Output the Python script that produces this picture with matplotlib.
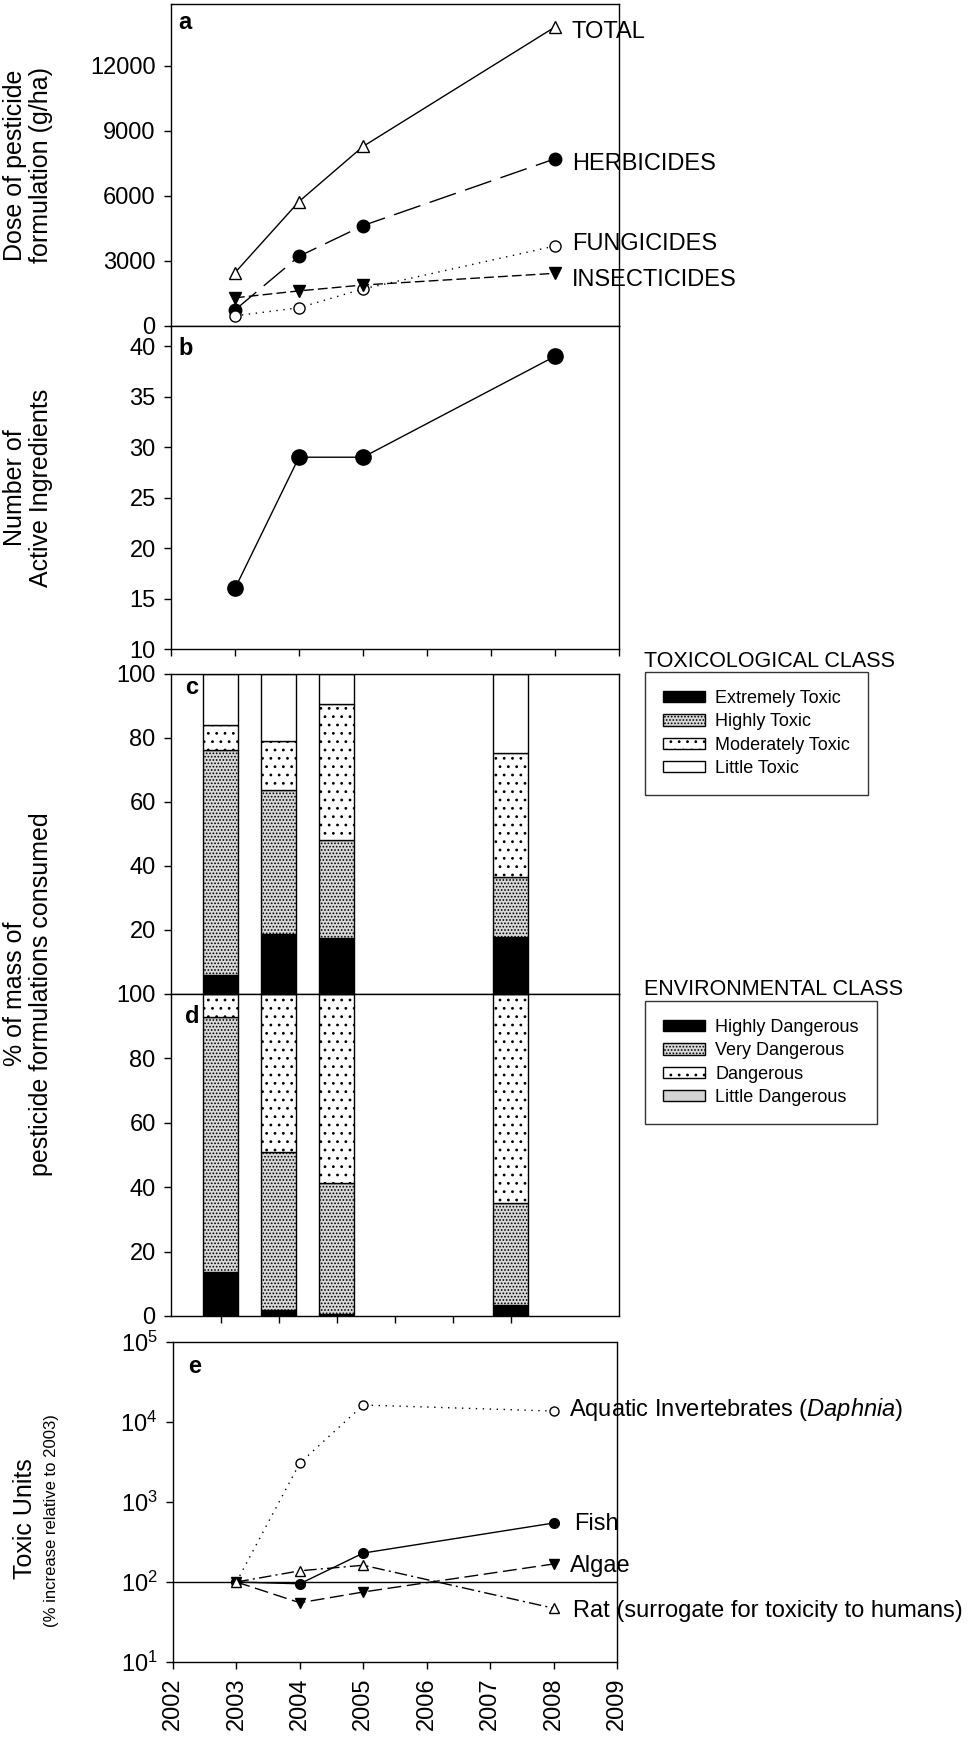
import numpy as np
import matplotlib
matplotlib.use('Agg')
import matplotlib.pyplot as plt
from matplotlib.patches import Patch
from matplotlib.ticker import NullLocator

plt.rcParams['font.family'] = ['Liberation Sans', 'DejaVu Sans']
plt.rcParams['mathtext.fontset'] = 'custom'
plt.rcParams['mathtext.rm'] = 'Liberation Sans'
plt.rcParams['mathtext.it'] = 'Liberation Sans:italic'
plt.rcParams['hatch.linewidth'] = 0.8
plt.rcParams['axes.linewidth'] = 1.0

years = [2003, 2004, 2005, 2008]

# a: dose of pesticide formulation (g/ha)
total = [2460, 5740, 8280, 13790]
herbicides = [740, 3215, 4630, 7710]
fungicides = [470, 840, 1710, 3690]
insecticides = [1300, 1620, 1890, 2430]

# b
active_ingredients = [16, 29, 29, 39]

# c: toxicological class (% of mass)
extremely_toxic = [6.0, 18.7, 17.4, 17.7]
highly_toxic = [70.1, 44.9, 30.8, 18.8]
moderately_toxic = [8.1, 15.6, 42.5, 38.9]
little_toxic = [15.8, 20.8, 9.3, 24.6]

# d: environmental class (% of mass)
highly_dangerous = [13.8, 1.8, 0.5, 3.5]
very_dangerous = [79.1, 49.2, 40.9, 31.6]
dangerous = [7.1, 49.0, 58.6, 64.9]
little_dangerous = [0.0, 0.0, 0.0, 0.0]

# e: toxic units (% relative to 2003)
daphnia = [100, 3070, 16300, 13700]
fish = [100, 95, 230, 546]
algae = [100, 55, 75, 168]
rat = [100, 138, 162, 47]

W, H = 979.0, 1741.0
fig = plt.figure(figsize=(W / 100, H / 100), dpi=100)


def add_panel(top, bottom, left=171, right=619):
    return fig.add_axes([left / W, 1 - bottom / H, (right - left) / W, (bottom - top) / H])


def style(ax):
    ax.tick_params(direction='out', length=5, width=1, labelsize=17, pad=6,
                   top=False, right=False)


def letter(ax, s, x, y):
    ax.text(x, y, s, transform=ax.transAxes, fontsize=17, fontweight='bold',
            ha='left', va='center')


# ---- a
ax_a = add_panel(4, 326)
style(ax_a)
ax_a.plot(years, total, color='k', lw=1, marker='^', mfc='white', mec='k', ms=8)
ax_a.plot(years, herbicides, color='k', lw=1, dashes=(20, 7), marker='o', ms=9)
ax_a.plot(years, fungicides, color='k', lw=1, dashes=(1, 4), marker='o', mfc='white', mec='k', ms=8)
ax_a.plot(years, insecticides, color='k', lw=1, dashes=(7, 3), marker='v', ms=8)
for vals, name, dy in [(total, 'TOTAL', -2), (herbicides, 'HERBICIDES', -2),
                       (fungicides, 'FUNGICIDES', 3), (insecticides, 'INSECTICIDES', -3)]:
    ax_a.annotate(name, (years[-1], vals[-1]), xytext=(12, dy), textcoords='offset points',
                  fontsize=17, va='center_baseline', ha='left', annotation_clip=False)
ax_a.set_xlim(2002, 2009)
ax_a.set_ylim(0, 14850)
ax_a.set_yticks(np.arange(0, 12001, 3000))
ax_a.tick_params(axis='x', bottom=False, labelbottom=False)
letter(ax_a, 'a', 0.016, 0.944)

# ---- b
ax_b = add_panel(326, 649)
style(ax_b)
ax_b.plot(years, active_ingredients, color='k', lw=1, marker='o', ms=11)
ax_b.set_xlim(2002, 2009)
ax_b.set_ylim(10, 42)
ax_b.set_yticks(np.arange(10, 41, 5))
ax_b.set_xticks(range(2002, 2010))
ax_b.tick_params(axis='x', labelbottom=False)
letter(ax_b, 'b', 0.016, 0.93)

# ---- c and d (stacked bars)
pos = np.array(years) - years[0]
bar_w = 0.6
dense = '.....'
sparse = '..'


def stack(ax, layers):
    bottom = np.zeros(len(pos))
    for vals, fc, hatch in layers:
        ax.bar(pos, vals, bar_w, bottom=bottom, color=fc, edgecolor='k', hatch=hatch, lw=1)
        bottom += np.array(vals)


tox_layers = [(extremely_toxic, 'k', None), (highly_toxic, '#d9d9d9', dense),
              (moderately_toxic, 'white', sparse), (little_toxic, 'white', None)]
env_layers = [(highly_dangerous, 'k', None), (very_dangerous, '#d9d9d9', dense),
              (dangerous, 'white', sparse), (little_dangerous, '#d3d3d3', None)]

ax_c = add_panel(674, 994)
style(ax_c)
stack(ax_c, tox_layers)
ax_c.set_xlim(-0.857, 6.867)
ax_c.set_ylim(0, 100)
ax_c.set_yticks(np.arange(20, 101, 20))
ax_c.set_xticks(range(6))
ax_c.tick_params(axis='x', labelbottom=False)
letter(ax_c, 'c', 0.031, 0.959)

ax_d = add_panel(994, 1316)
style(ax_d)
stack(ax_d, env_layers)
ax_d.set_xlim(-0.857, 6.867)
ax_d.set_ylim(0, 100)
ax_d.set_yticks(np.arange(0, 101, 20))
ax_d.set_xticks(range(6))
ax_d.tick_params(axis='x', labelbottom=False)
letter(ax_d, 'd', 0.031, 0.929)

tox_names = ['Extremely Toxic', 'Highly Toxic', 'Moderately Toxic', 'Little Toxic']
env_names = ['Highly Dangerous', 'Very Dangerous', 'Dangerous', 'Little Dangerous']

for layers, names, title, title_y, box_top in [
        (tox_layers, tox_names, 'TOXICOLOGICAL CLASS', 667, 672),
        (env_layers, env_names, 'ENVIRONMENTAL CLASS', 995, 1001)]:
    handles = [Patch(facecolor=fc, edgecolor='k', hatch=h, lw=1) for _, fc, h in layers]
    fig.text(644 / W, 1 - title_y / H, title, fontsize=15.5, ha='left', va='baseline')
    leg = fig.legend(handles, names, loc='upper left', bbox_to_anchor=(645 / W, 1 - box_top / H),
                     borderaxespad=0, fontsize=13, frameon=True, fancybox=False,
                     edgecolor='k', handlelength=2.3, handleheight=0.6, labelspacing=0.35,
                     borderpad=1.0, handletextpad=0.6)
    leg.get_frame().set_linewidth(1)

# ---- e
ax_e = add_panel(1342, 1662, left=173, right=617)
style(ax_e)
ax_e.axhline(100, color='k', lw=1)
ax_e.plot(years, daphnia, color='k', lw=1, dashes=(1, 4), marker='o', mfc='white', mec='k', ms=6.5)
ax_e.plot(years, fish, color='k', lw=1, marker='o', ms=7)
ax_e.plot(years, algae, color='k', lw=1, dashes=(10, 4), marker='v', ms=7)
ax_e.plot(years, rat, color='k', lw=1, dashes=(9, 3, 1.5, 3), marker='^', mfc='white', mec='k', ms=6.5)
for vals, name, dx, dy in [(daphnia, 'Aquatic Invertebrates ($\\mathit{Daphnia}$)', 11, 4),
                           (fish, 'Fish', 15, 1), (algae, 'Algae', 12, 0),
                           (rat, 'Rat (surrogate for toxicity to humans)', 14, 0)]:
    ax_e.annotate(name, (years[-1], vals[-1]), xytext=(dx, dy), textcoords='offset points',
                  fontsize=17, va='center_baseline', ha='left', annotation_clip=False)
ax_e.set_yscale('log')
ax_e.set_ylim(10, 1e5)
ax_e.set_yticks([1e1, 1e2, 1e3, 1e4, 1e5])
ax_e.yaxis.set_minor_locator(NullLocator())
ax_e.set_xlim(2002, 2009)
ax_e.set_xticks(range(2002, 2010))
ax_e.set_xticklabels([str(y) for y in range(2002, 2010)], rotation=90)
letter(ax_e, 'e', 0.034, 0.922)

# ---- y labels
fig.text(28 / W, 1 - 165 / H, 'Dose of pesticide\nformulation (g/ha)', rotation=90,
         fontsize=18, ha='center', va='center', multialignment='center', linespacing=1.1)
fig.text(28 / W, 1 - 488 / H, 'Number of\nActive Ingredients', rotation=90,
         fontsize=18, ha='center', va='center', multialignment='center', linespacing=1.1)
fig.text(28 / W, 1 - 994 / H, '% of mass of\npesticide formulations consumed', rotation=90,
         fontsize=18, ha='center', va='center', multialignment='center', linespacing=1.1)
fig.text(25 / W, 1 - 1519 / H, 'Toxic Units', rotation=90, fontsize=18, ha='center', va='center')
fig.text(52 / W, 1 - 1521 / H, '(% increase relative to 2003)', rotation=90, fontsize=12,
         ha='center', va='center')

fig.savefig('out.png', dpi=100)
